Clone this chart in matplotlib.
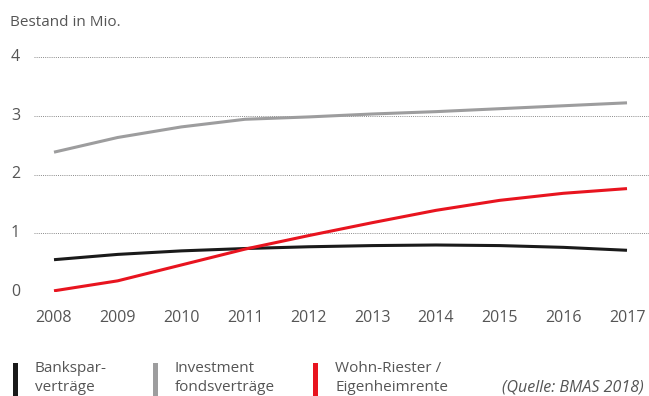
import numpy as np
import matplotlib
matplotlib.use("Agg")
import matplotlib.pyplot as plt
from matplotlib.patches import Rectangle
import matplotlib.transforms as mtransforms

plt.rcParams['font.family'] = ['Open Sans', 'DejaVu Sans']

years = [2008, 2009, 2010, 2011, 2012, 2013, 2014, 2015, 2016, 2017]
banksparvertraege = [0.55, 0.64, 0.70, 0.74, 0.77, 0.79, 0.80, 0.79, 0.76, 0.71]
investment = [2.38, 2.63, 2.81, 2.94, 2.98, 3.03, 3.07, 3.12, 3.17, 3.22]
wohn_riester = [0.02, 0.19, 0.46, 0.73, 0.96, 1.18, 1.39, 1.56, 1.68, 1.76]

yticks = [0, 1, 2, 3, 4]
series_labels = ["Bankspar-\nverträge", "Investment\nfondsverträge", "Wohn-Riester /\nEigenheimrente"]
series_colors = ["#1a1a1a", "#9d9d9e", "#e8141f"]
text_color = "#555555"

fig = plt.figure(figsize=(6.49, 3.96), dpi=100)
W, H = 649, 396
ax = fig.add_axes([34 / W, (H - 292) / H, (W - 34) / W, (292 - 57) / H])
px_per_year = (627 - 54) / 9
ax.set_xlim(2008 - 20 / px_per_year, 2008 + (649 - 54) / px_per_year)
ax.set_ylim(0, 4)

for yv in yticks:
    ax.axhline(yv, color="#8a8a8a", linewidth=0.7, linestyle=(0, (1, 1.2)), zorder=1)

for vals, col in zip([banksparvertraege, investment, wohn_riester], series_colors):
    ax.plot(years, vals, color=col, linewidth=2.2, solid_capstyle='butt', zorder=3)

for s in ax.spines.values():
    s.set_visible(False)
ax.set_xticks(years)
ax.set_xticklabels([str(y) for y in years])
ax.set_yticks([])
ax.tick_params(axis='both', length=0, labelsize=11.5, labelcolor=text_color)
ax.tick_params(axis='x', pad=13)

# y labels, left aligned at x = 10 px
trans = mtransforms.blended_transform_factory(fig.transFigure, ax.transData)
for yv in yticks:
    ax.text(11 / W, yv, str(yv), transform=trans, fontsize=11.5, color=text_color,
            ha='left', va='center', clip_on=False)

fig.text(10 / W, 1 - 22 / H, "Bestand in Mio.", fontsize=11, color=text_color, va='center', ha='left')

# legend at the bottom
leg_x = [13, 153, 313]
for x0, lab, col in zip(leg_x, series_labels, series_colors):
    fig.patches.append(Rectangle((x0 / W, 0), 4.5 / W, 33 / H, transform=fig.transFigure,
                                 facecolor=col, edgecolor='none'))
    fig.text((x0 + 22) / W, 1 - 378 / H, lab, fontsize=11, color=text_color,
             va='center', ha='left', linespacing=1.3)

fig.text(644 / W, 1 - 387 / H, "(Quelle: BMAS 2018)", fontsize=11.5, color=text_color,
         style='italic', va='center', ha='right')

fig.savefig("out.png", dpi=100)
